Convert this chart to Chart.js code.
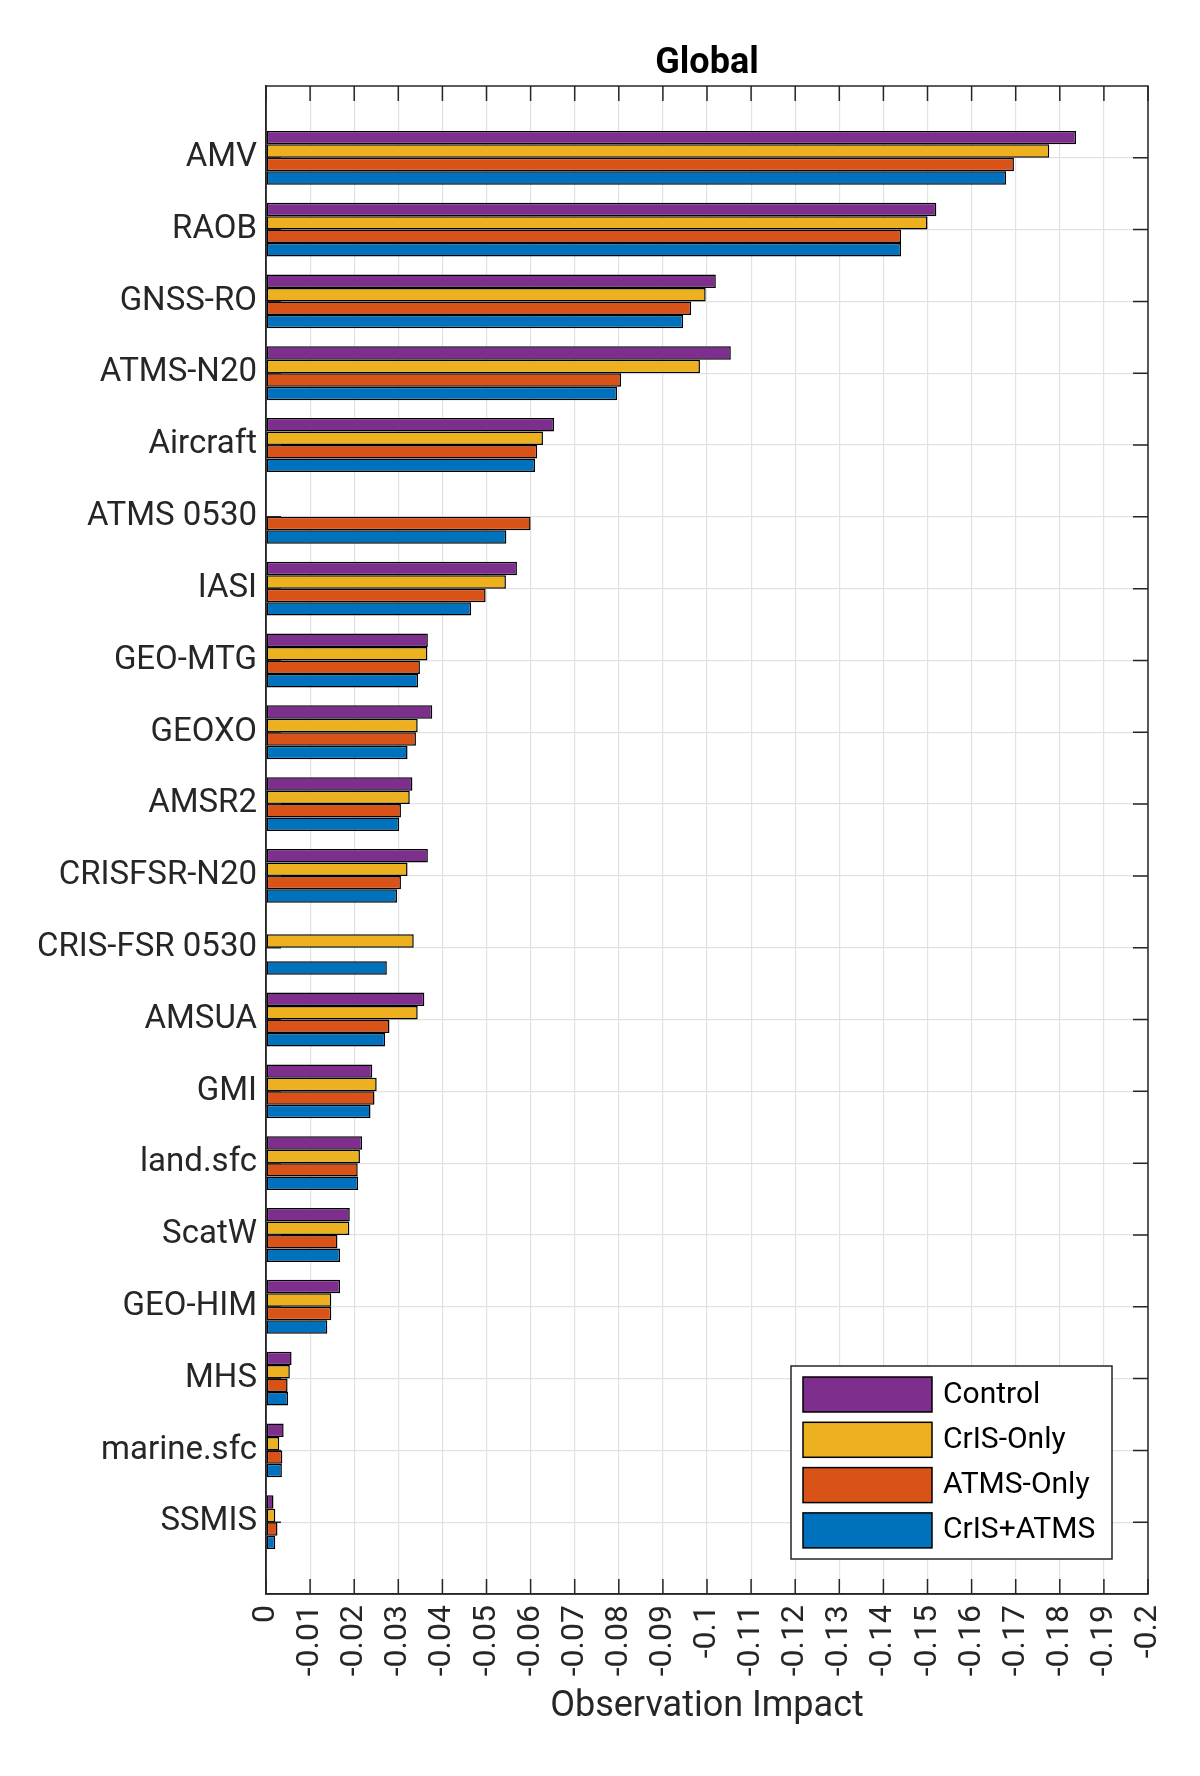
<!DOCTYPE html>
<html>
<head>
<meta charset="utf-8">
<script src="https://cdn.jsdelivr.net/npm/chart.js@4.4.1/dist/chart.umd.min.js"></script>
<style>
  html, body { margin: 0; padding: 0; background: #fff; }
  canvas { display: block; }
</style>
</head>
<body>
<canvas id="impactChart" width="1200" height="1776" style="width:1200px;height:1776px"></canvas>
<script>
// observation types, top to bottom
const categories = ['AMV', 'RAOB', 'GNSS-RO', 'ATMS-N20', 'Aircraft', 'ATMS 0530', 'IASI', 'GEO-MTG',
  'GEOXO', 'AMSR2', 'CRISFSR-N20', 'CRIS-FSR 0530', 'AMSUA', 'GMI', 'land.sfc', 'ScatW',
  'GEO-HIM', 'MHS', 'marine.sfc', 'SSMIS'];

// impact per experiment (null = not assimilated)
const control  = [-0.1837, -0.1520, -0.1020, -0.1054, -0.0653, null, -0.0569, -0.0367, -0.0377, -0.0332,
  -0.0367, null, -0.0359, -0.0241, -0.0218, -0.0190, -0.0168, -0.0058, -0.0040, -0.0017];
const crisOnly = [-0.1776, -0.1500, -0.0997, -0.0984, -0.0628, null, -0.0544, -0.0366, -0.0344, -0.0326,
  -0.0321, -0.0335, -0.0344, -0.0251, -0.0213, -0.0189, -0.0148, -0.0054, -0.0030, -0.0021];
const atmsOnly = [-0.1696, -0.1440, -0.0964, -0.0805, -0.0615, -0.0600, -0.0498, -0.0349, -0.0340, -0.0306,
  -0.0306, null, -0.0280, -0.0246, -0.0208, -0.0162, -0.0148, -0.0049, -0.0037, -0.0026];
const crisAtms = [-0.1678, -0.1440, -0.0946, -0.0796, -0.0610, -0.0545, -0.0465, -0.0345, -0.0321, -0.0302,
  -0.0297, -0.0274, -0.0270, -0.0237, -0.0209, -0.0168, -0.0139, -0.0050, -0.0036, -0.0021];

const seriesNames = ['Control', 'CrIS-Only', 'ATMS-Only', 'CrIS+ATMS'];
const seriesColors = ['#7E2F8E', '#EDB120', '#D95319', '#0072BD'];

const xTickLabels = ['0', '-0.01', '-0.02', '-0.03', '-0.04', '-0.05', '-0.06', '-0.07', '-0.08', '-0.09',
  '-0.1', '-0.11', '-0.12', '-0.13', '-0.14', '-0.15', '-0.16', '-0.17', '-0.18', '-0.19', '-0.2'];

const chartTitle = 'Global';
const TEXT = '#262626';
const TICK_LEN = 15;

Chart.defaults.font.family = 'Roboto';

// categories sit at 1..n on a linear axis so there is a full gap above and below, like matlab
const toPoints = (arr) => arr.map((v, i) => ({ x: v, y: i + 1 }));

// matlab style box: ticks inside on all four sides, title centred over the axes
const boxTicks = {
  id: 'boxTicks',
  afterDatasetsDraw(chart) {
    const { ctx, chartArea: a, scales: { x, y } } = chart;
    ctx.save();
    ctx.strokeStyle = TEXT;
    ctx.lineWidth = 1.5;
    ctx.beginPath();
    x.ticks.forEach(t => {
      const px = x.getPixelForValue(t.value);
      ctx.moveTo(px, a.top); ctx.lineTo(px, a.top + TICK_LEN);
      ctx.moveTo(px, a.bottom); ctx.lineTo(px, a.bottom - TICK_LEN);
    });
    y.ticks.forEach(t => {
      const py = y.getPixelForValue(t.value);
      ctx.moveTo(a.left, py); ctx.lineTo(a.left + TICK_LEN, py);
      ctx.moveTo(a.right, py); ctx.lineTo(a.right - TICK_LEN, py);
    });
    ctx.stroke();
    ctx.strokeRect(a.left, a.top, a.right - a.left, a.bottom - a.top);

    ctx.fillStyle = '#000';
    ctx.font = 'bold 36px Roboto';
    ctx.textAlign = 'center';
    ctx.textBaseline = 'alphabetic';
    ctx.fillText(chartTitle, (a.left + a.right) / 2, 73);
    ctx.restore();
  }
};

// legend box in the lower right corner of the axes
const cornerLegend = {
  id: 'cornerLegend',
  afterDraw(chart) {
    const { ctx, chartArea: a } = chart;
    const sets = chart.data.datasets;
    const boxW = 321, boxH = 193;
    const left = a.right - 36 - boxW;
    const top = a.bottom - 35 - boxH;
    ctx.save();
    ctx.fillStyle = '#fff';
    ctx.fillRect(left, top, boxW, boxH);
    ctx.strokeStyle = TEXT;
    ctx.lineWidth = 1.5;
    ctx.strokeRect(left, top, boxW, boxH);
    ctx.font = '30px Roboto';
    ctx.textBaseline = 'middle';
    sets.forEach((ds, i) => {
      const sy = top + 11 + i * 45.3;
      ctx.fillStyle = ds.backgroundColor;
      ctx.fillRect(left + 12, sy, 129, 35);
      ctx.strokeStyle = '#000';
      ctx.strokeRect(left + 12, sy, 129, 35);
      ctx.fillStyle = '#000';
      ctx.fillText(ds.label, left + 152, sy + 18);
    });
    ctx.restore();
  }
};

const values = [control, crisOnly, atmsOnly, crisAtms];

new Chart(document.getElementById('impactChart'), {
  type: 'bar',
  data: {
    datasets: values.map((arr, i) => ({
      label: seriesNames[i],
      data: toPoints(arr),
      backgroundColor: seriesColors[i],
      borderColor: '#000',
      borderWidth: 1.5,
      borderSkipped: false,
      categoryPercentage: 0.75,
      barPercentage: 1.0
    }))
  },
  options: {
    indexAxis: 'y',
    responsive: false,
    animation: false,
    devicePixelRatio: 1,
    layout: { padding: { left: 0, right: 52, top: 86, bottom: 0 } },
    plugins: {
      legend: { display: false },
      tooltip: { enabled: false },
      title: { display: false }
    },
    scales: {
      x: {
        type: 'linear',
        min: -0.2,
        max: 0,
        reverse: true,
        position: 'bottom',
        afterFit: (s) => { s.height = 182; },
        afterBuildTicks: (s) => { s.ticks = xTickLabels.map(l => ({ value: parseFloat(l) })); },
        grid: { color: '#e2e2e2', lineWidth: 1.2, drawTicks: false },
        border: { display: true, color: TEXT, width: 1.5 },
        ticks: {
          autoSkip: false,
          minRotation: 90,
          maxRotation: 90,
          padding: 11,
          color: TEXT,
          font: { size: 32 },
          callback: (v, i) => xTickLabels[i]
        },
        title: {
          display: true,
          text: 'Observation Impact',
          color: TEXT,
          font: { size: 36 },
          padding: { top: 0, bottom: 47 }
        }
      },
      y: {
        type: 'linear',
        offset: false,
        min: 0,
        max: categories.length + 1,
        reverse: true,
        position: 'left',
        afterFit: (s) => { s.width = 266; },
        afterBuildTicks: (s) => { s.ticks = categories.map((c, i) => ({ value: i + 1 })); },
        grid: { color: '#e2e2e2', lineWidth: 1.2, drawTicks: false, offset: false },
        border: { display: true, color: TEXT, width: 1.5 },
        ticks: {
          autoSkip: false,
          padding: 9,
          color: TEXT,
          font: { size: 33 },
          callback: (v, i) => categories[i]
        }
      }
    }
  },
  plugins: [boxTicks, cornerLegend]
});
</script>
</body>
</html>
